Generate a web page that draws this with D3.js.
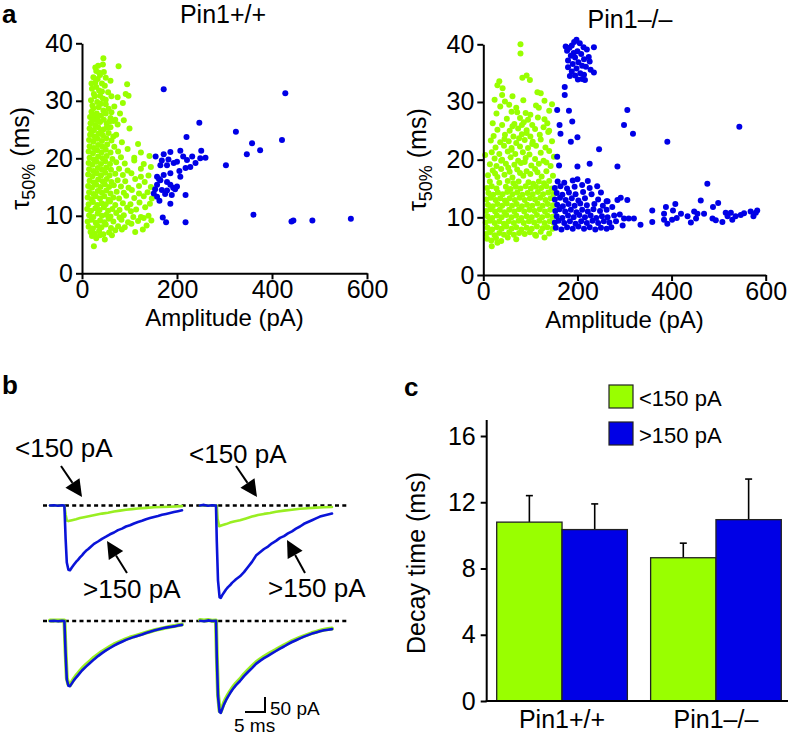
<!DOCTYPE html>
<html><head><meta charset="utf-8">
<script src="https://cdn.jsdelivr.net/npm/d3@7"></script>
<style>body{margin:0;background:#fff}svg{display:block}text{font-family:"Liberation Sans",Arial,Helvetica,sans-serif}</style>
</head><body><svg id="fig" width="788" height="737"></svg>
<script>
const GREEN = "#99ff00", BLUE = "#0000e6", TGREEN = "#99ee22", TBLUE = "#0a14d8";
const FONT = '"Liberation Sans", Arial, Helvetica, sans-serif';

// ---------- panel a data: [amplitude pA, tau50% ms] ----------
const wtSmall = [[25,4.7],[30,6.1],[48,5.9],[21,6.5],[38,6.6],
[18,7.2],[27,6.9],[36,7.4],[45,6.8],[57,7.1],[70,7.5],[112,7.2],[128,7.6],[63,6.6],
[14,8.1],[23,7.8],[32,8.3],[41,8.0],[50,8.5],[61,7.9],[76,8.2],[90,8.0],[104,8.6],[136,8.3],[84,7.6],
[12,9.0],[20,9.3],[29,8.8],[38,9.2],[47,8.9],[56,9.5],[66,9.0],[83,9.3],[97,8.9],[118,9.1],[130,9.6],[146,9.2],[108,9.8],
[15,10.1],[24,9.8],[33,10.4],[42,10.0],[51,10.2],[60,9.9],[72,10.5],[88,10.1],[124,9.8],[140,10.0],[79,9.7],
[11,11.2],[19,10.9],[28,11.3],[37,11.0],[46,11.5],[55,10.9],[64,11.2],[79,11.0],[95,11.4],[114,11.1],[133,11.5],[103,10.8],
[14,12.0],[23,12.4],[32,11.9],[41,12.2],[50,12.0],[59,12.5],[70,11.9],[86,12.2],[102,12.0],[121,12.3],[143,12.1],
[12,13.2],[20,12.9],[29,13.4],[38,13.0],[47,13.4],[56,12.8],[66,13.2],[78,13.0],[93,13.5],[110,13.1],[130,13.4],[147,13.0],
[15,14.1],[24,13.8],[33,14.3],[42,14.0],[51,14.4],[60,13.9],[73,14.2],[88,14.0],[105,14.5],[138,14.1],[120,13.9],
[13,15.2],[21,14.9],[30,15.4],[39,15.0],[48,15.5],[57,15.0],[67,15.3],[82,15.1],[98,14.9],[120,15.2],[145,15.0],
[16,16.1],[25,15.8],[34,16.3],[43,16.0],[52,16.4],[62,15.9],[75,16.2],[91,16.0],[112,16.4],[132,15.9],
[13,17.2],[22,16.9],[31,17.4],[40,17.0],[49,17.5],[58,17.0],[70,17.3],[86,17.1],[104,17.4],[140,17.0],[124,16.8],
[15,18.1],[24,17.8],[33,18.3],[42,18.0],[51,18.4],[61,18.0],[78,18.2],[96,17.9],[124,18.2],[145,18.5],
[14,19.2],[22,18.9],[31,19.4],[40,19.0],[49,19.5],[59,19.0],[72,19.3],[90,19.1],[130,19.0],[110,19.6],
[16,20.1],[25,19.8],[34,20.3],[43,20.0],[52,20.4],[64,19.9],[82,20.2],[110,20.1],[142,20.4],
[14,21.2],[23,20.9],[32,21.4],[41,21.0],[50,21.5],[60,21.0],[76,21.2],[124,21.0],[96,21.6],
[16,22.1],[25,21.8],[34,22.3],[43,22.0],[53,22.4],[68,22.0],[118,22.5],
[15,23.2],[24,22.9],[33,23.4],[42,23.0],[51,23.5],[62,23.1],[84,22.8],
[17,24.1],[26,23.8],[35,24.3],[44,24.0],[56,24.4],[72,24.1],
[16,25.2],[25,24.9],[34,25.4],[45,25.0],[60,25.4],[100,25.2],
[18,26.1],[28,25.8],[38,26.3],[52,26.0],[66,26.5],
[17,27.2],[27,26.9],[40,27.4],[60,27.0],[70,26.7],
[20,28.1],[31,27.8],[45,28.3],[62,28.0],
[22,29.2],[35,28.9],[50,29.4],[68,29.0],
[19,30.1],[32,29.8],[44,30.4],[75,30.6],
[25,31.2],[38,30.9],[55,31.5],[92,31.2],
[21,32.1],[36,31.8],[48,32.6],[95,32.9],
[28,33.2],[42,33.0],[60,33.5],
[24,34.1],[38,34.5],
[30,35.2],[46,35.0],[28,35.8],
[34,36.1],[77,36.0],
[45,37.4],
[22,27.6],[34,27.4],[50,27.8],[24,28.7],[40,29.5],[56,28.6],[27,30.8],[50,30.2],[62,30.8],[30,32.4],
[42,31.6],[33,33.8],[50,34.0],[20,33.0],[44,36.3],[36,34.9],[22,26.6],[33,26.6],[46,26.7],[58,26.4],
[28,25.6],[52,25.3],[40,24.6],[20,24.6],[66,23.8],[75,25.9],[80,27.8],[86,29.6],[98,30.9],[88,26.6]];

const wtLarge = [[172,32.0],[428,31.3],[247,26.2],[324,24.6],[220,23.7],[421,23.2],[358,22.6],[375,21.4],[347,20.7],[303,18.8],
[251,21.3],[207,21.3],[186,21.1],[155,20.3],[172,20.7],[182,19.8],[165,18.8],[179,18.8],[193,19.2],[205,17.8],
[213,20.3],[221,19.7],[232,20.3],[239,19.2],[249,20.0],[260,20.1],[228,18.5],[218,18.3],[207,16.8],[158,16.8],
[165,16.2],[158,15.4],[179,15.9],[186,17.4],[172,17.1],[151,13.9],[158,13.3],[168,14.5],[163,12.6],[179,14.4],
[189,13.6],[196,14.6],[186,15.4],[200,15.1],[218,13.6],[186,12.1],[170,9.7],[177,8.9],[218,8.9],[361,10.2],
[441,9.0],[445,9.2],[485,9.2],[566,9.5],[162,16.4],[175,13.8],[154,14.6],[192,14.9],[200,19.4],[168,19.6]];

const koSmall = [[18,5.0],[30,5.6],
[8,6.3],[17,6.0],[27,6.4],[38,5.9],[52,6.5],[70,6.2],[112,6.8],[130,6.5],
[6,7.1],[14,7.4],[24,6.9],[34,7.3],[44,7.0],[55,7.4],[65,7.0],[76,7.3],[88,7.1],[99,7.4],[110,7.0],[122,7.5],[140,7.2],
[9,8.2],[19,7.9],[29,8.3],[39,8.0],[49,8.4],[60,8.0],[70,8.3],[81,7.9],[92,8.2],[103,8.0],[114,8.4],[126,8.1],[136,8.3],[147,8.0],
[5,9.1],[14,9.4],[24,9.0],[34,9.3],[44,8.9],[54,9.3],[65,9.0],[75,9.4],[86,9.0],[97,9.3],[108,9.1],[119,9.4],[130,9.0],[141,9.3],[150,9.0],
[9,10.2],[19,9.9],[29,10.3],[39,10.0],[49,10.4],[60,10.0],[70,10.3],[81,9.9],[92,10.2],[103,10.0],[114,10.4],[125,10.0],[136,10.3],[147,10.1],
[6,11.1],[15,11.4],[25,11.0],[35,11.3],[45,10.9],[55,11.3],[66,11.0],[76,11.4],[87,11.0],[98,11.3],[109,11.1],[120,11.4],[131,11.0],[142,11.3],
[10,12.2],[20,11.9],[30,12.3],[40,12.0],[50,12.4],[61,12.0],[71,12.3],[82,11.9],[93,12.2],[104,12.0],[115,12.4],[126,12.0],[137,12.3],[148,12.1],
[7,13.1],[16,13.4],[26,13.0],[36,13.3],[46,12.9],[56,13.3],[67,13.0],[77,13.4],[88,13.0],[99,13.3],[110,13.1],[121,13.4],[132,13.0],[143,13.3],
[11,14.2],[21,13.9],[31,14.3],[41,14.0],[51,14.4],[62,14.0],[72,14.3],[83,13.9],[94,14.2],[105,14.0],[116,14.4],[127,14.0],[138,14.3],[149,14.1],
[8,15.1],[18,15.4],[28,15.0],[48,15.3],[58,14.9],[69,15.3],[79,15.0],[90,15.4],[101,15.0],[112,15.3],[123,15.1],[134,15.4],[145,15.0],
[14,16.2],[34,16.0],[52,16.3],[64,15.9],[75,16.2],[96,16.1],[106,15.8],[118,16.2],[129,15.9],[140,16.3],
[10,17.3],[30,17.0],[45,17.4],[62,16.9],[85,17.2],[100,17.5],[124,17.1],[148,17.2],
[20,18.1],[38,18.4],[56,17.9],[72,18.3],[92,18.0],[110,18.4],[134,18.0],
[14,19.2],[28,18.9],[48,19.3],[66,19.1],[80,19.4],[102,19.0],[118,19.3],[143,18.9],
[24,20.2],[40,20.0],[58,20.4],[74,19.8],[90,20.3],[110,20.1],[128,19.8],[150,20.5],
[4,20.8],[18,21.3],[34,21.0],[52,21.4],[68,21.0],[84,21.3],[98,20.9],[122,21.2],[140,21.5],
[26,22.1],[44,22.4],[60,22.0],[78,22.3],[95,22.0],[112,22.4],[132,22.1],
[16,23.3],[36,23.0],[54,23.2],[70,22.9],[88,23.4],[105,23.1],[146,23.2],
[22,24.1],[46,24.3],[64,24.0],[82,24.4],[100,24.0],[120,24.3],[138,24.8],
[30,25.2],[56,25.0],[74,25.4],[92,25.1],[110,25.3],[128,25.6],
[20,26.3],[40,26.0],[66,26.2],[86,26.5],[104,26.0],[136,26.3],
[50,27.1],[78,27.2],[95,26.9],[116,27.3],
[28,28.0],[60,28.3],[90,28.1],[140,28.5],
[36,29.2],[70,29.0],[112,29.4],[146,29.6],
[46,30.1],[24,30.4],[130,30.2],
[40,31.2],[62,31.0],[115,31.7],[122,31.5],
[41,32.4],[30,32.9],
[34,33.6],[99,33.8],
[83,34.2],[92,34.6],
[79,38.4],[79,40.0],
[25,17.6],[53,18.6],[78,17.7],[115,17.8],[38,19.8],[88,19.6],[60,21.7],[104,22.7],[76,23.7],[45,23.6],
[92,24.6],[62,25.8],[82,26.0],[100,27.8],[72,28.2],[55,29.5],[85,30.3],[118,29.0],[130,27.0],[140,25.0],
[122,23.5],[134,19.5]];

const koLarge = [[198,40.8],[193,40.4],[205,40.2],[175,39.6],[183,39.4],[178,38.9],[188,39.8],[213,39.5],[235,39.5],[220,39.1],
[200,38.8],[208,38.3],[186,38.0],[195,37.7],[214,37.4],[224,37.8],[180,37.2],[190,36.6],[202,36.9],[210,36.3],
[198,35.8],[218,36.1],[228,35.6],[188,35.3],[206,35.0],[235,35.1],[195,34.6],[214,34.7],[201,33.9],[216,33.8],
[180,36.0],[192,38.5],[226,37.0],[210,34.0],[184,34.5],[173,32.6],[173,31.2],
[157,28.6],[182,28.5],[306,28.6],[299,26.0],[318,24.5],[189,26.6],[162,26.0],[164,24.5],[186,23.1],[200,23.9],
[246,21.8],[391,23.1],[544,25.7],[226,19.3],[285,18.8],[200,18.8],[157,20.5],[161,19.0],
[154,8.2],[166,7.9],[178,8.3],[190,8.0],[202,8.4],[214,8.0],[226,8.3],[238,7.9],[250,8.2],[262,8.0],[272,8.3],
[152,9.1],[160,9.4],[172,9.0],[184,9.3],[196,8.9],[208,9.3],[220,9.0],[232,9.4],[244,9.0],[256,9.3],[268,9.1],[282,9.3],
[156,10.2],[168,9.9],[180,10.3],[192,10.0],[204,10.4],[216,10.0],[228,10.3],[240,9.9],[252,10.2],[264,10.0],[278,10.3],
[153,11.1],[162,11.4],[174,11.0],[186,11.3],[198,10.9],[210,11.3],[222,11.0],[234,11.4],[248,11.1],[262,11.3],
[157,12.2],[169,11.9],[181,12.3],[194,12.0],[206,12.4],[220,12.1],[236,12.3],[254,12.0],
[152,13.1],[163,13.4],[175,13.0],[188,13.3],[202,12.9],[216,13.3],[244,13.1],[262,12.8],
[156,14.2],[168,13.9],[182,14.3],[196,14.0],[212,14.4],[230,14.0],[250,14.3],
[152,15.1],[164,15.4],[178,15.0],[194,15.3],[210,15.6],[226,15.1],[242,15.4],
[158,16.2],[172,16.0],[190,16.4],[200,16.6],[222,16.3],
[274,11.8],[285,13.0],[264,12.8],[306,13.0],[292,13.4],[309,9.8],[296,8.6],[290,10.5],
[299,9.8],[320,9.8],[334,8.7],[359,9.2],[359,11.2],[384,10.6],[388,11.8],[391,8.9],[408,12.3],[403,11.2],
[401,9.6],[420,10.6],[411,9.9],[434,10.2],[441,9.1],[448,11.0],[452,9.8],[455,10.6],[462,12.9],[476,15.8],
[488,11.8],[487,9.8],[499,12.5],[508,9.2],[515,10.8],[519,10.2],[526,10.8],[529,9.6],[536,10.2],[547,10.4],
[554,10.7],[568,11.0],[574,10.2],[582,11.2],[579,10.8],[494,9.5],[469,10.6],[384,9.6]];

const ampTicks = [0, 200, 400, 600];
const tauTicks = [0, 10, 20, 30, 40];

// ---------- panel b data: [time ms, current pA] ----------
const wtBlueTrace = [[0,0],[1,1],[2,-1],[3,1],[3.6,0],[3.9,-110],[4.2,-190],[4.6,-214],[5,-216],[5.5,-206],[6,-197],[6.5,-188],[7,-181],[7.5,-173],[8,-166],[8.5,-158],[9,-151],[9.5,-146],[10,-140],[11,-128],[12,-120],[13,-111],[14,-104],[15,-96],[16,-90],[17,-82],[18,-77],[19,-70],[20,-66],[21,-60],[22,-55],[23,-51],[24,-46],[25,-42],[26,-38],[27,-35],[28,-31],[29,-28],[30,-25],[31,-22],[32,-19],[33,-16]];
const wtGreenTrace = [[0,0],[3.6,0],[3.9,-30],[4.2,-50],[4.6,-52],[5.5,-49],[6.5,-46],[7.5,-42],[8.5,-39],[10,-35],[11.5,-31],[13,-27],[14.5,-24],[16,-20],[17.5,-17],[19,-14],[20.5,-12],[22,-10],[24,-8],[26,-6],[28,-5],[30,-4],[33,-2]];
const koBlueTrace = [[0,0],[1,2],[2,-1],[3,1],[4,0],[4.2,-120],[4.5,-250],[4.9,-306],[5.2,-308],[5.6,-298],[6,-290],[6.5,-280],[7,-272],[7.5,-266],[8,-258],[8.5,-252],[9,-246],[10,-236],[11,-222],[12,-205],[13,-188],[14,-167],[15,-156],[16,-145],[17,-137],[18,-126],[19,-118],[20,-108],[21,-102],[22,-93],[23,-86],[24,-77],[25,-70],[26,-61],[27,-55],[28,-49],[29,-43],[30,-37],[31,-33],[32,-30],[33,-27]];
const koGreenTrace = [[0,0],[4.2,0],[4.4,-45],[4.8,-69],[5.5,-66],[6.5,-62],[7.5,-57],[8.5,-53],[10,-49],[11.5,-43],[13,-37],[14.5,-32],[16,-28],[17.5,-25],[19,-21],[21,-17],[23,-14],[25,-11],[27,-9],[29,-7],[31,-6],[33,-5]];
const wtBlueScaled = [[0,0],[1,1],[2,-1],[3,1],[3.6,0],[3.9,-110],[4.2,-195],[4.6,-216],[5,-217],[5.5,-207],[6,-197],[6.5,-189],[7,-181],[7.5,-173],[8,-165],[9,-152],[10,-140],[11,-128],[12,-117],[13,-107],[14,-98],[15,-90],[16,-82],[17,-75],[18,-69],[19,-63],[20,-58],[21,-53],[22,-49],[23,-45],[24,-40],[25,-36],[26,-32],[27,-28],[28,-25],[29,-22],[30,-20],[31,-18],[32,-15],[33,-13]];
const wtGreenScaled = [[0,2],[3.6,2],[3.9,-105],[4.2,-190],[4.6,-212],[5,-214],[5.5,-203],[6,-192],[6.5,-183],[7,-175],[7.5,-167],[8,-159],[9,-146],[10,-134],[11,-122],[12,-112],[13,-102],[14,-94],[15,-86],[16,-78],[17,-72],[18,-66],[19,-60],[20,-55],[21,-51],[22,-47],[23,-43],[24,-39],[25,-35],[26,-31],[27,-28],[28,-25],[29,-22],[30,-19],[31,-17],[32,-14],[33,-12]];
const koBlueScaled = [[0,1],[1,-1],[2,2],[3,0],[4,1],[4.2,-120],[4.5,-250],[4.9,-304],[5.2,-306],[5.6,-292],[6,-278],[6.5,-264],[7,-252],[7.5,-241],[8,-231],[8.5,-222],[9,-214],[10,-200],[11,-184],[12,-170],[13,-157],[14,-143],[15,-133],[16,-124],[17,-116],[18,-108],[19,-100],[20,-92],[21,-85],[22,-77],[23,-70],[24,-64],[25,-58],[26,-52],[27,-47],[28,-42],[29,-38],[30,-34],[31,-31],[32,-29],[33,-27]];
const koGreenScaled = [[0,3],[1,2],[2,3],[3,1],[4,2],[4.2,-115],[4.5,-244],[4.9,-300],[5.2,-302],[5.6,-287],[6,-272],[6.5,-258],[7,-246],[7.5,-235],[8,-225],[8.5,-216],[9,-208],[10,-194],[11,-178],[12,-164],[13,-151],[14,-138],[15,-128],[16,-119],[17,-111],[18,-103],[19,-96],[20,-88],[21,-81],[22,-74],[23,-67],[24,-61],[25,-55],[26,-50],[27,-45],[28,-40],[29,-36],[30,-32],[31,-29],[32,-27],[33,-25]];

// ---------- panel c data ----------
const genotypes = ["Pin1+/+", "Pin1\u2013/\u2013"];
const ampClasses = ["<150 pA", ">150 pA"];
const decayMean = [[10.8, 10.35], [8.65, 10.95]];
const decaySem = [[1.6, 1.55], [0.88, 2.45]];
const decayTicks = [0, 4, 8, 12, 16];

// ====================================================
const svg = d3.select("#fig");

function styleAxis(a, fs) {
  a.attr("font-family", FONT).attr("font-size", fs);
  a.selectAll("path").attr("stroke", "#000").attr("stroke-width", 2);
  a.selectAll("line").attr("stroke", "#000").attr("stroke-width", 2);
  a.selectAll("text").attr("fill", "#000").attr("font-size", fs);
}

function scatter(cfg) {
  const x = d3.scaleLinear().domain([0, 600]).range([cfg.x0, cfg.x1]);
  const y = d3.scaleLinear().domain([0, 40]).range([cfg.y0, cfg.y1]);
  const g = svg.append("g");
  g.append("g").selectAll("circle").data(cfg.small).join("circle")
    .attr("cx", d => x(d[0])).attr("cy", d => y(d[1])).attr("r", 3.0).attr("fill", GREEN);
  g.append("g").selectAll("circle").data(cfg.large).join("circle")
    .attr("cx", d => x(d[0])).attr("cy", d => y(d[1])).attr("r", 3.0).attr("fill", BLUE);
  const ax = g.append("g").attr("transform", `translate(0,${cfg.y0})`)
    .call(d3.axisBottom(x).tickValues(ampTicks).tickSize(6).tickSizeOuter(0).tickPadding(1));
  const ay = g.append("g").attr("transform", `translate(${cfg.x0},0)`)
    .call(d3.axisLeft(y).tickValues(tauTicks).tickSize(6).tickSizeOuter(0).tickPadding(3));
  styleAxis(ax, 25); styleAxis(ay, 25);
  g.append("text").attr("x", cfg.tx).attr("y", cfg.ty).attr("text-anchor", "middle")
    .attr("font-size", 25).text(cfg.title);
  g.append("text").attr("x", (cfg.x0 + cfg.x1) / 2).attr("y", cfg.y0 + 53).attr("text-anchor", "middle")
    .attr("font-size", 24).text("Amplitude (pA)");
  const yl = g.append("text").attr("transform", `translate(${cfg.lx},${(cfg.y0 + cfg.y1) / 2}) rotate(-90)`)
    .attr("text-anchor", "middle").attr("font-size", 25);
  yl.append("tspan").text("\u03c4");
  yl.append("tspan").attr("font-size", 18).attr("dy", 6).text("50%");
  yl.append("tspan").attr("dy", -6).text(" (ms)");
}

scatter({x0: 82, x1: 367, y0: 273.3, y1: 43.3, small: wtSmall, large: wtLarge, title: "Pin1+/+", tx: 223, ty: 23, lx: 29});
scatter({x0: 483.3, x1: 765.7, y0: 275, y1: 44.3, small: koSmall, large: koLarge, title: "Pin1\u2013/\u2013", tx: 630, ty: 28, lx: 426});

// panel letters
[["a", 2, 23], ["b", 2, 394], ["c", 404, 396]].forEach(([t, x, y]) =>
  svg.append("text").attr("x", x).attr("y", y).attr("font-size", 26).attr("font-weight", "bold").text(t));

// ---------- panel b ----------
const tx = d3.scaleLinear().domain([0, 5]).range([0, 20]);
const ty = d3.scaleLinear().domain([0, -50]).range([0, 15]);
function trace(data, ox, oy, color, w) {
  const line = d3.line().x(d => ox + tx(d[0])).y(d => oy + ty(d[1]));
  svg.append("path").attr("d", line(data)).attr("fill", "none").attr("stroke", color)
    .attr("stroke-width", w).attr("stroke-linejoin", "round").attr("stroke-linecap", "round");
}
[505.5, 621].forEach(yy => svg.append("line").attr("x1", 43).attr("x2", 347).attr("y1", yy).attr("y2", yy)
  .attr("stroke", "#000").attr("stroke-width", 2.5).attr("stroke-dasharray", "4,3.3"));
trace(wtGreenTrace, 50, 505.5, TGREEN, 2.6);
trace(wtBlueTrace, 50, 505.5, TBLUE, 2.6);
trace(koGreenTrace, 200, 505.5, TGREEN, 2.6);
trace(koBlueTrace, 200, 505.5, TBLUE, 2.6);
trace(wtGreenScaled, 50, 621, TGREEN, 4);
trace(wtBlueScaled, 50, 621, TBLUE, 2.6);
trace(koGreenScaled, 200, 621, TGREEN, 4);
trace(koBlueScaled, 200, 621, TBLUE, 2.6);

function arrow(x1, y1, x2, y2) {
  const ang = Math.atan2(y2 - y1, x2 - x1), L = 17, H = 8.5;
  const bx = x2 - L * Math.cos(ang), by = y2 - L * Math.sin(ang);
  svg.append("line").attr("x1", x1).attr("y1", y1).attr("x2", bx).attr("y2", by).attr("stroke", "#000").attr("stroke-width", 2);
  const p = [[x2, y2], [bx + H * Math.sin(ang), by - H * Math.cos(ang)], [bx - H * Math.sin(ang), by + H * Math.cos(ang)]];
  svg.append("polygon").attr("points", p.map(q => q.join(",")).join(" ")).attr("fill", "#000");
}
arrow(61, 466, 82, 497);
arrow(236, 466, 257, 497);
arrow(127, 573, 107, 541);
arrow(305, 573, 287, 540);
[["<150 pA", 15, 457], ["<150 pA", 189, 463], [">150 pA", 83, 598], [">150 pA", 268, 597]].forEach(([t, x, y]) =>
  svg.append("text").attr("x", x).attr("y", y).attr("font-size", 26).text(t));
// scale bar
svg.append("path").attr("d", `M245,${712}H${245 + tx(5)}V${712 - ty(-50)}`).attr("fill", "none")
  .attr("stroke", "#000").attr("stroke-width", 2);
svg.append("text").attr("x", 270).attr("y", 715).attr("font-size", 19).text("50 pA");
svg.append("text").attr("x", 234).attr("y", 732).attr("font-size", 19).text("5 ms");

// ---------- panel c ----------
const cy = d3.scaleLinear().domain([0, 16]).range([701, 436]);
const cx = d3.scaleBand().domain(genotypes).range([496.7, 781.3]).paddingInner(0.151);
const cs = d3.scaleBand().domain(ampClasses).range([0, cx.bandwidth()]);
const colors = [GREEN, BLUE];
const cg = svg.append("g");
genotypes.forEach((gname, gi) => {
  ampClasses.forEach((cname, ci) => {
    const x0 = cx(gname) + cs(cname), w = cs.bandwidth();
    const m = decayMean[gi][ci], e = decaySem[gi][ci];
    const xc = x0 + w / 2;
    cg.append("line").attr("x1", xc).attr("x2", xc).attr("y1", cy(m)).attr("y2", cy(m + e)).attr("stroke", "#000").attr("stroke-width", 1.6);
    cg.append("line").attr("x1", xc - 3.5).attr("x2", xc + 3.5).attr("y1", cy(m + e)).attr("y2", cy(m + e)).attr("stroke", "#000").attr("stroke-width", 1.6);
    cg.append("rect").attr("x", x0).attr("y", cy(m)).attr("width", w).attr("height", cy(0) - cy(m))
      .attr("fill", colors[ci]).attr("stroke", "#222").attr("stroke-width", 1.3);
  });
});
const cay = cg.append("g").attr("transform", "translate(486.7,0)")
  .call(d3.axisLeft(cy).tickValues(decayTicks).tickSize(6).tickSizeOuter(0).tickPadding(5));
styleAxis(cay, 25);
cay.select(".domain").remove();
cg.append("line").attr("x1", 486.7).attr("x2", 486.7).attr("y1", 420).attr("y2", 702).attr("stroke", "#000").attr("stroke-width", 2);
cg.append("line").attr("x1", 485.7).attr("x2", 788).attr("y1", 701).attr("y2", 701).attr("stroke", "#000").attr("stroke-width", 2);
genotypes.forEach(gname => cg.append("text").attr("x", cx(gname) + cx.bandwidth() / 2).attr("y", 728)
  .attr("text-anchor", "middle").attr("font-size", 25).text(gname));
cg.append("text").attr("transform", "translate(425,563) rotate(-90)").attr("text-anchor", "middle")
  .attr("font-size", 25).text("Decay time (ms)");
// legend
ampClasses.forEach((cname, i) => {
  const yy = [385, 422][i];
  cg.append("rect").attr("x", 609).attr("y", yy).attr("width", 24).attr("height", 23)
    .attr("fill", colors[i]).attr("stroke", "#222").attr("stroke-width", 1.2);
  cg.append("text").attr("x", 639).attr("y", yy + 21).attr("font-size", 22).text(cname);
});
</script></body></html>
